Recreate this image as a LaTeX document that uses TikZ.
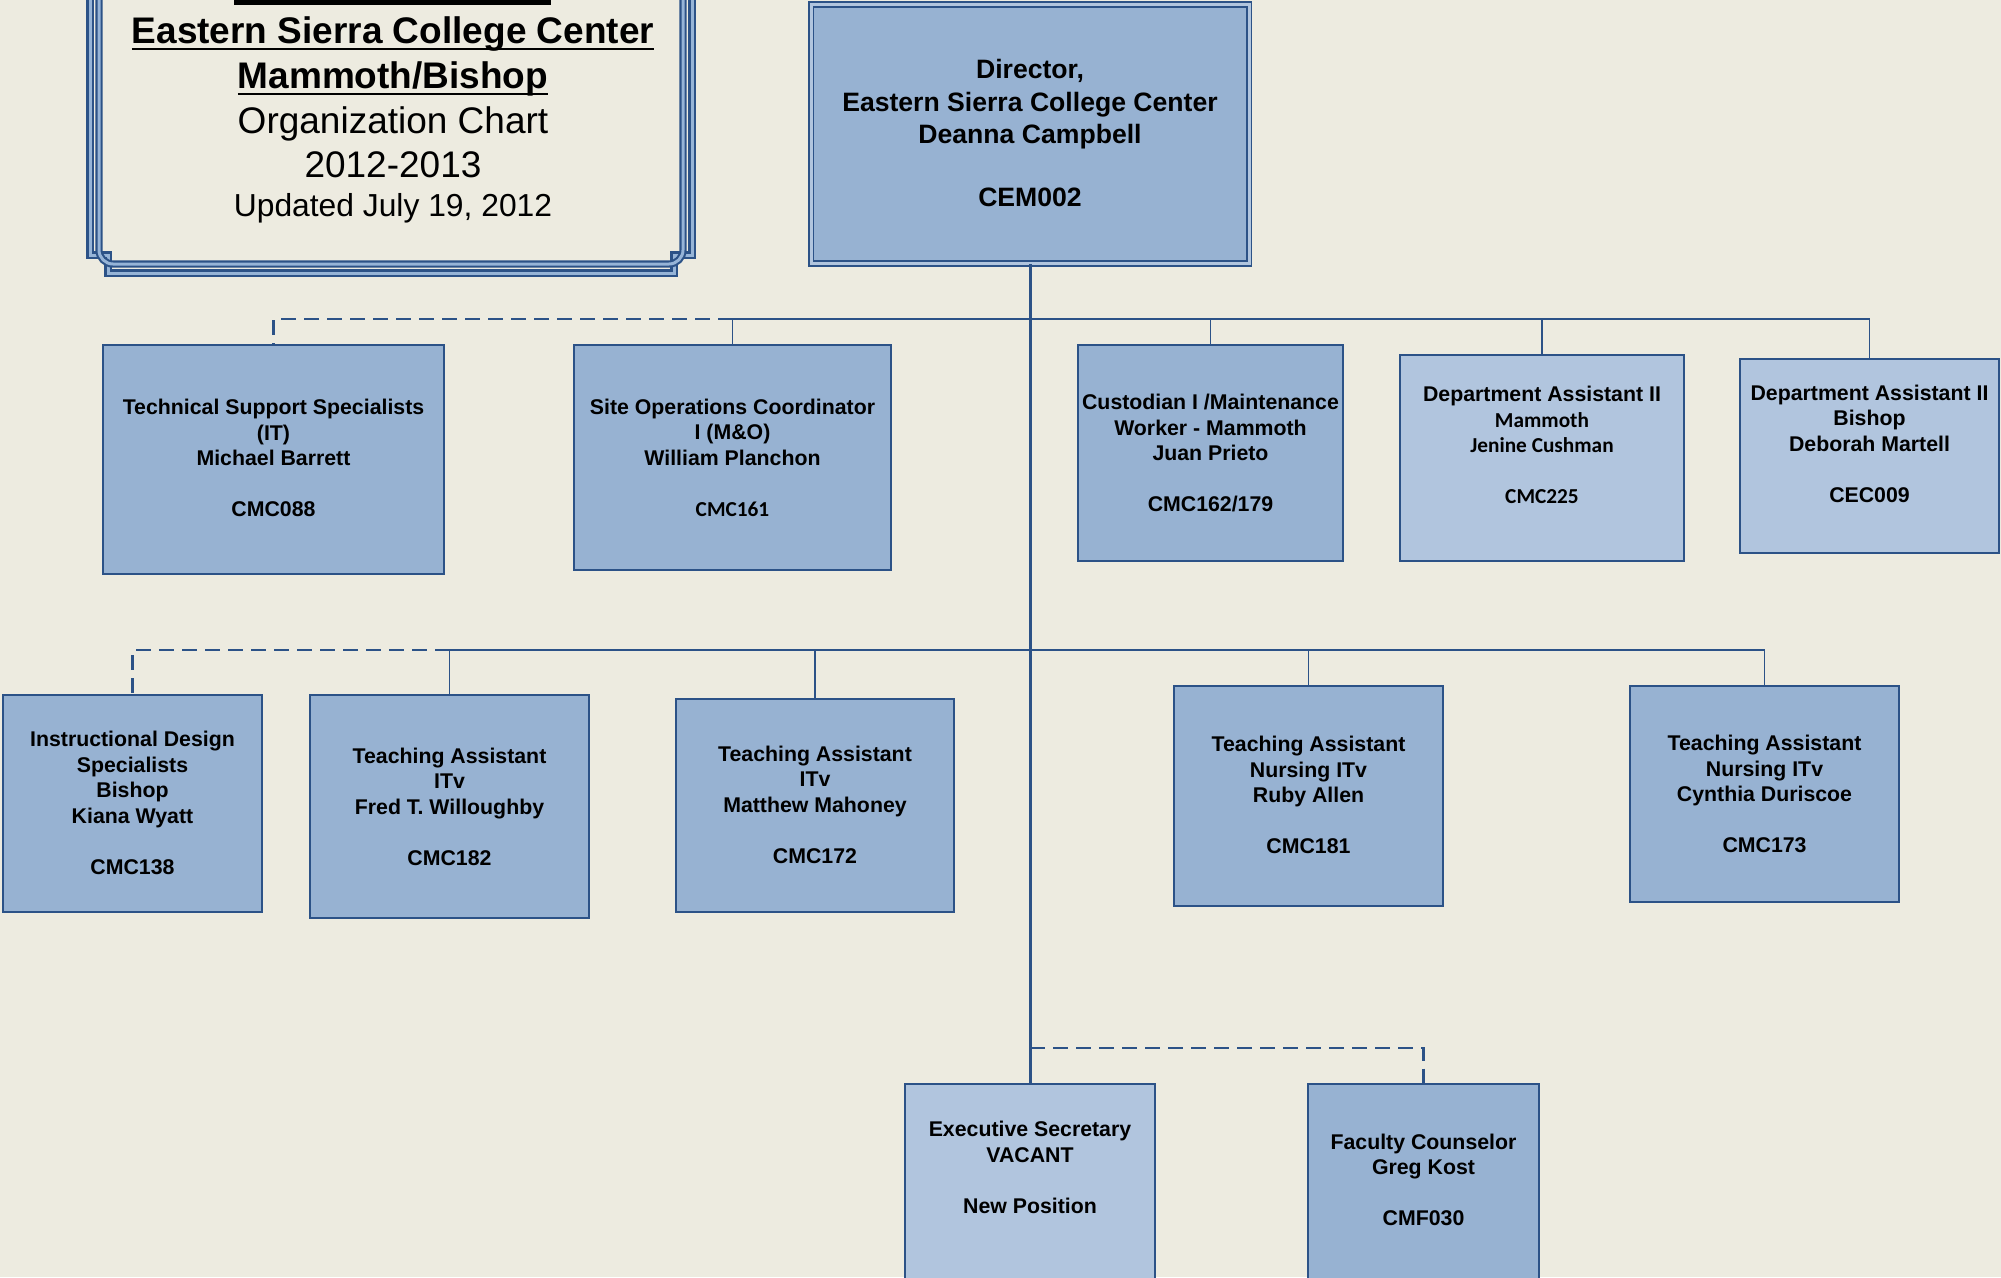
\documentclass[tikz,border=0pt]{standalone}
\usepackage{fontspec}
\setmainfont{Liberation Sans}
\newfontfamily\calibfont{Carlito}
\usetikzlibrary{calc}

\definecolor{bgcol}{RGB}{237,235,224}
\definecolor{boxdark}{RGB}{151,178,210}
\definecolor{boxlight}{RGB}{177,197,222}
\definecolor{edge}{RGB}{44,82,135}
\definecolor{band}{RGB}{150,180,215}

\newcommand{\ttlul}[1]{\setbox0=\hbox{#1}\rlap{\rule[-6.8pt]{\wd0}{2.6pt}}\box0}

\begin{document}
\begin{tikzpicture}[x=1pt, y=-1pt,
	box/.style={draw=edge, line width=2pt, fill=boxdark, inner sep=0pt},
	lightbox/.style={box, fill=boxlight},
	boxtxt/.style={font=\fontsize{21.3}{25.5}\selectfont\bfseries, align=center, inner sep=0pt},
	link/.style={draw=edge, line width=2.1pt},
	dlink/.style={link, dash pattern=on 15pt off 8pt},
	frameline/.style={draw=edge, line width=2.1pt, double=band, double distance=3pt}]

		\useasboundingbox (0,0) rectangle (2001,1277);
		\fill[bgcol] (0,0) rectangle (2001,1277);
		\clip (0,0) rectangle (2001,1277);

		% title frame
		\draw[frameline] (90,-10) -- (90,255) -- (108,255) -- (108,273) -- (674,273) -- (674,255) -- (692,255) -- (692,-10);
		\draw[frameline, rounded corners=14pt] (99,-10) -- (99,264) -- (683,264) -- (683,-10);
		\fill (234,0) rectangle (551,4.5);

		\node[font=\fontsize{37}{44.7}\selectfont, align=center, inner sep=0pt] (ttl) at (393,97.5)
			{\ttlul{\textbf{Eastern Sierra College Center}}\\ \ttlul{\textbf{Mammoth/Bishop}}\\ Organization Chart\\ 2012-2013};
		\node[font=\fontsize{31.8}{38}\selectfont, inner sep=0pt] (upd) at (393,208.7) {Updated July 19, 2012};

		% director
		\node[box, fill=boxdark, line width=1.8pt, double=boxlight, double distance=3pt,
			minimum width=438pt, minimum height=259pt] (dir) at (1030,134) {};
		\node[font=\fontsize{26.6}{32.5}\selectfont\bfseries, align=center, inner sep=0pt] (dirtxt) at (1030,133)
			{Director,\\ Eastern Sierra College Center\\ Deanna Campbell\\[30pt] CEM002};

		% first row
		\node[box, minimum width=341pt, minimum height=229pt] (tech) at (273.5,459.5) {};
		\node[box, minimum width=317pt, minimum height=225pt] (site) at (732.5,457.5) {};
		\node[box, minimum width=265pt, minimum height=216pt] (custo) at (1210.5,453) {};
		\node[lightbox, minimum width=284pt, minimum height=206pt] (dama) at (1542,458) {};
		\node[lightbox, minimum width=259pt, minimum height=194pt] (dabi) at (1869.5,456) {};

		\node[boxtxt] (techtxt) at (273.5,458) {Technical Support Specialists\\ (IT)\\ Michael Barrett\\[25.5pt] CMC088};
		\node[boxtxt] (sitetxt) at (732.5,457.5) {Site Operations Coordinator\\ I (M\&O)\\ William Planchon\\[25.5pt] {\calibfont CMC161}};
		\node[boxtxt] (custotxt) at (1210.5,453) {Custodian I /Maintenance\\ Worker - Mammoth\\ Juan Prieto\\[25.5pt] CMC162/179};
		\node[boxtxt] (damatxt) at (1542,445) {Department Assistant II\\ {\calibfont Mammoth}\\ {\calibfont Jenine Cushman}\\[25.5pt] {\calibfont CMC225}};
		\node[boxtxt] (dabitxt) at (1869.5,443.5) {Department Assistant II\\ Bishop\\ Deborah Martell\\[25.5pt] CEC009};

		% second row
		\node[box, minimum width=259pt, minimum height=217pt] (instr) at (132.5,803.5) {};
		\node[box, minimum width=279pt, minimum height=223pt] (fred) at (449.5,806.5) {};
		\node[box, minimum width=278pt, minimum height=213pt] (matt) at (815,805.5) {};
		\node[box, minimum width=269pt, minimum height=220pt] (ruby) at (1308.5,796) {};
		\node[box, minimum width=269pt, minimum height=216pt] (cyn) at (1764.5,794) {};

		\node[boxtxt] (instrtxt) at (132.5,803) {Instructional Design\\ Specialists\\ Bishop\\ Kiana Wyatt\\[25.5pt] CMC138};
		\node[boxtxt] (fredtxt) at (449.5,806.5) {Teaching Assistant\\ ITv\\ Fred T. Willoughby\\[25.5pt] CMC182};
		\node[boxtxt] (matttxt) at (815,804.5) {Teaching Assistant\\ ITv\\ Matthew Mahoney\\[25.5pt] CMC172};
		\node[boxtxt] (rubytxt) at (1308.5,795) {Teaching Assistant\\ Nursing ITv\\ Ruby Allen\\[25.5pt] CMC181};
		\node[boxtxt] (cyntxt) at (1764.5,794) {Teaching Assistant\\ Nursing ITv\\ Cynthia Duriscoe\\[25.5pt] CMC173};

		% third row
		\node[lightbox, minimum width=250pt, minimum height=216pt] (exec) at (1030,1192) {};
		\node[box, minimum width=231pt, minimum height=216pt] (facc) at (1423.5,1192) {};

		\node[boxtxt] (exectxt) at (1030,1167.5) {Executive Secretary\\ VACANT\\[25.5pt] New Position};
		\node[boxtxt] (facctxt) at (1423.5,1180) {Faculty Counselor\\ Greg Kost\\[25.5pt] CMF030};

		% connectors
		\coordinate (r1) at (1030,319);
		\coordinate (r2) at (1030,650);
		\coordinate (r3) at (1030,1048);

		\draw[link, line width=3pt] (dir.south) -- (exec.north);

		\draw[link] (site.north |- r1) -- (dabi.north |- r1);
		\foreach \n in {site, custo, dama, dabi}
			\draw[link, line width=1.8pt] (\n.north) -- (\n.north |- r1);
		\draw[dlink] (site.north |- r1) -| (tech.north);

		\draw[link] (fred.north |- r2) -- (cyn.north |- r2);
		\foreach \n in {fred, matt, ruby, cyn}
			\draw[link, line width=1.8pt] (\n.north) -- (\n.north |- r2);
		\draw[dlink] (fred.north |- r2) -| (instr.north);

		\draw[dlink] (r3) -| (facc.north);

\end{tikzpicture}
\end{document}
